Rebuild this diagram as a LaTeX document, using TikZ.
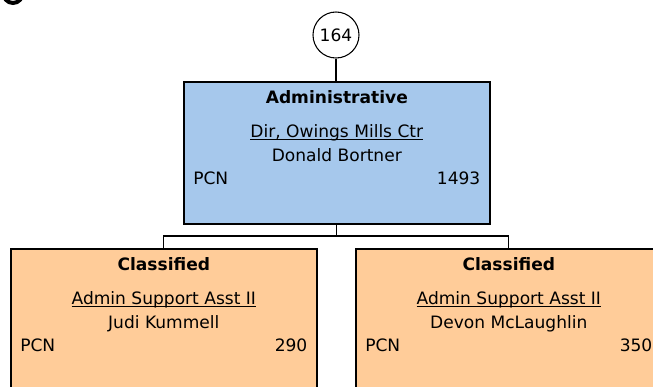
\documentclass[tikz,border=0pt]{standalone}
\usepackage{fontspec}
\setmainfont{DejaVu Sans}
\usetikzlibrary{positioning,calc}
\definecolor{adminblue}{RGB}{166,200,236}
\definecolor{classorange}{RGB}{255,204,153}
\tikzset{
    posbox/.style={draw=black, line width=1.2pt, anchor=north west, inner sep=0pt},
    link/.style={draw=black, line width=1pt},
    txt/.style={font=\fontsize{12.8}{15}\selectfont, inner sep=0pt, anchor=base}
}
% underline that sits close under the baseline
\newcommand{\ttlline}[1]{\setbox0\hbox{#1}\rlap{\rule[-1.8pt]{\wd0}{0.6pt}}\box0}
\newcommand{\position}[8]{%
    % #1 name, #2 x, #3 y, #4 colour, #5 group, #6 title, #7 person, #8 pcn
    \node[posbox, fill=#4, minimum width=306*0.75pt, minimum height=142*0.75pt] (#1) at (#2,#3) {};
    \node[txt, font=\fontsize{12.8}{15}\selectfont\bfseries] (#1grp) at ($(#1.north)+(0,22)$) {#5};
    \node[txt] (#1ttl) at ($(#1.north)+(0,56)$) {\ttlline{#6}};
    \node[txt] (#1who) at ($(#1.north)+(0,80)$) {#7};
    \node[txt, anchor=base west] (#1pcn) at ($(#1.north west)+(10,103)$) {PCN};
    \node[txt, anchor=base east] (#1num) at ($(#1.north east)+(-10,103)$) {#8};
}
\begin{document}
\begin{tikzpicture}[x=0.75pt, y=-0.75pt]
    \useasboundingbox (0,0) rectangle (653,386);
    \begin{scope}
        \clip (0,0) rectangle (653,386);
        % cut-off mark at the top left corner
        \draw[line width=3pt] (3,-8) arc[start angle=180, end angle=0, x radius=10, y radius=11];

        \node[draw=black, circle, line width=0.8pt, minimum size=46*0.75pt, inner sep=0pt,
            font=\fontsize{12.8}{15}\selectfont] (unit) at (336,35) {164};

        \position{dir}{183}{81}{adminblue}{Administrative}{Dir, Owings Mills Ctr}{Donald Bortner}{1493}
        \position{asstA}{10}{248}{classorange}{Classified}{Admin Support Asst II}{Judi Kummell}{290}
        \position{asstB}{355}{248}{classorange}{Classified}{Admin Support Asst II}{Devon McLaughlin}{350}

        \coordinate (bar) at (dir.south |- 0,236);
        \draw[link] (unit.south) -- (unit.south |- dir.north);
        \draw[link] (dir.south) -- (bar);
        \draw[link] (asstA.north) |- (bar) -| (asstB.north);
    \end{scope}
\end{tikzpicture}
\end{document}
